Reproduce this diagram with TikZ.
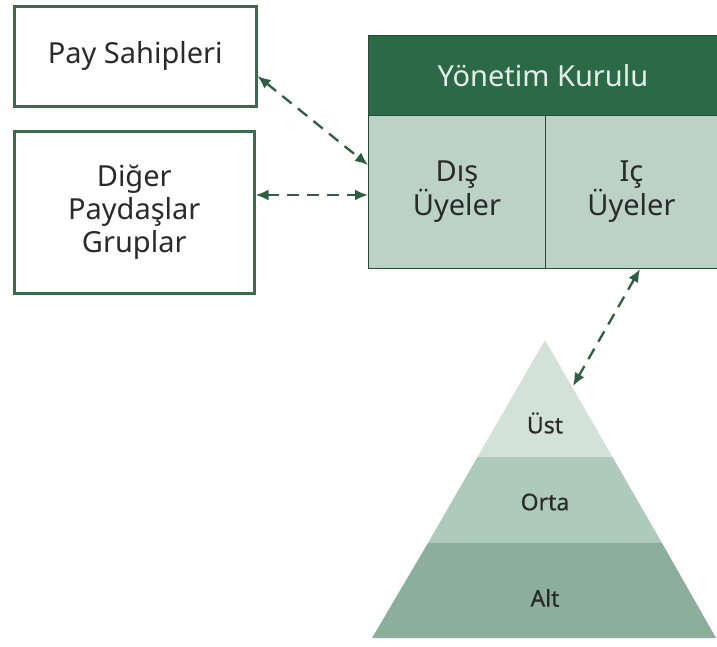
\documentclass[tikz,border=0pt]{standalone}
\usepackage{fontspec}
\setmainfont{Noto Sans}
\usetikzlibrary{arrows.meta}
\definecolor{boxc}{HTML}{3A6A50}
\definecolor{headc}{HTML}{2C6A47}
\definecolor{lowc}{HTML}{BCD2C6}
\definecolor{pyA}{HTML}{D2E2D9}
\definecolor{pyB}{HTML}{AECABB}
\definecolor{pyC}{HTML}{8BAF9B}
\definecolor{txt}{HTML}{2A2A2A}
\definecolor{headtxt}{HTML}{E6F0EA}
\definecolor{arr}{HTML}{2F5E45}
\tikzset{
  wbox/.style={draw=boxc, line width=2.5pt, fill=white, anchor=north west, align=center, text=txt, font=\fontsize{29}{33}\selectfont},
  cell/.style={draw=boxc!70!black, line width=0.9pt, anchor=north west, inner sep=0pt},
  dbl/.style={arr, line width=2.3pt, dash pattern=on 12pt off 8pt, {Latex[length=13pt,width=11pt]}-{Latex[length=13pt,width=11pt]}},
  pyt/.style={text=txt, font=\fontsize{23}{26}\selectfont\addfontfeature{FakeBold=0.6}}
}
\begin{document}
\begin{tikzpicture}[x=1pt,y=1pt]
\useasboundingbox (0,0) rectangle (717,-646);
\fill[white] (0,0) rectangle (717,-646);
% left boxes
\node[wbox, minimum width=242, minimum height=100] (pay) at (13,-5) {Pay Sahipleri};
\node[wbox, minimum width=240, minimum height=162] (dig) at (13,-130) {Diğer\\Paydaşlar\\Gruplar};
% board
\node[cell, fill=headc, minimum width=349, minimum height=80, text=headtxt, font=\fontsize{29}{30}\selectfont] (yk) at (368,-35) {Yönetim Kurulu};
\node[cell, fill=lowc, minimum width=177, minimum height=153, align=center, text=txt, font=\fontsize{29}{27}\selectfont] (dis) at (368,-115) {Dış\\Üyeler};
\node[cell, fill=lowc, minimum width=172, minimum height=153, align=center, text=txt, font=\fontsize{29}{27}\selectfont] (ic) at (545,-115) {Iç\\Üyeler};
% pyramid
\fill[pyA] (545,-340) -- (612.5,-457) -- (477.5,-457) -- cycle;
\fill[pyB] (477.5,-457) -- (612.5,-457) -- (662,-543) -- (428,-543) -- cycle;
\fill[pyC] (428,-543) -- (662,-543) -- (716,-638) -- (372,-638) -- cycle;
\node[pyt] (ust) at (545,-423) {Üst};
\node[pyt] (orta) at (545,-502) {Orta};
\node[pyt] (alt) at (545,-598) {Alt};
\coordinate (pyr) at (573,-386);
\coordinate (icb) at (640,-269);
% connectors
\draw[dbl] (pay.east |- 0,-76) -- (dis.west |- 0,-165);
\draw[dbl] (dig.east |- 0,-195) -- (dis.west |- 0,-195);
\draw[dbl] (icb) -- (pyr);
\end{tikzpicture}
\end{document}
